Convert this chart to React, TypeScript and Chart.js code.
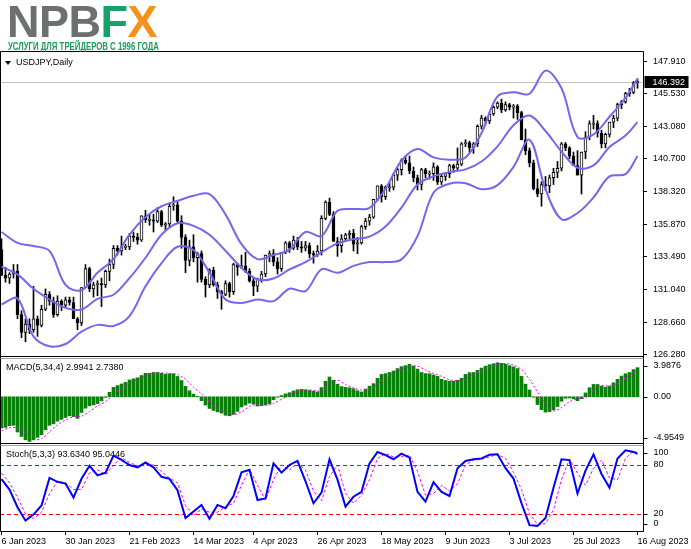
import React, { useEffect, useRef } from 'react';
import { Chart, registerables } from 'chart.js';

Chart.register(...registerables);

// ---------------- data ----------------
const dateLabels = ['6 Jan 2023', '30 Jan 2023', '21 Feb 2023', '14 Mar 2023', '4 Apr 2023', '26 Apr 2023', '18 May 2023', '9 Jun 2023', '3 Jul 2023', '25 Jul 2023', '16 Aug 2023'];
const dateLabelBars = [0, 16, 32, 48, 63, 79, 95, 111, 127, 143, 159];
const priceTicks = [147.91, 145.53, 143.08, 140.7, 138.32, 135.87, 133.49, 131.04, 128.66, 126.28];
const currentPrice = 146.392;
const macdTickValues = [3.9876, 0, -4.9549];
const macdTickLabels = ['3.9876', '0.00', '-4.9549'];
const stochTickValues = [100, 80, 20, 0];
const stochTickLabels = ['100', '80', '20', '0'];
const stochLevels = [80, 20];
const symbolTitle = 'USDJPY,Daily';
const macdTitle = 'MACD(5,34,4) 2.9941 2.7380';
const stochTitle = 'Stoch(5,3,3) 93.6340 95.0446';

const opens = [
  134.0, 132.1, 131.9, 132.2, 132.4, 129.2, 127.9, 128.5, 128.1, 128.9,
  128.4, 129.6, 130.7, 130.2, 129.2, 130.2, 129.9, 130.3, 130.1, 128.9,
  128.6, 131.2, 132.6, 131.1, 131.4, 131.5, 131.4, 132.4, 132.9, 134.1,
  133.9, 134.2, 134.2, 135.0, 134.9, 134.7, 136.5, 136.2, 136.2, 136.1,
  136.8, 135.8, 135.9, 137.2, 137.3, 136.1, 134.9, 133.2, 134.2, 133.4,
  133.7, 131.8, 131.4, 132.5, 131.4, 130.9, 130.7, 131.5, 130.9, 132.9,
  132.7, 132.8, 132.4, 131.7, 131.3, 131.8, 132.2, 133.6, 133.7, 133.1,
  132.6, 133.8, 134.5, 134.1, 134.7, 134.2, 134.1, 134.3, 133.7, 133.6,
  133.9, 136.3, 137.5, 136.6, 134.6, 134.3, 134.8, 135.1, 135.2, 134.4,
  134.5, 135.7, 136.1, 136.4, 137.7, 138.7, 137.9, 138.6, 138.6, 139.5,
  139.9, 140.6, 140.4, 139.8, 139.3, 138.8, 139.9, 139.6, 139.6, 140.1,
  139.0, 139.4, 139.6, 140.2, 140.0, 140.3, 141.8, 141.9, 141.5, 141.8,
  143.1, 143.7, 143.5, 144.0, 144.5, 144.8, 144.3, 144.7, 144.5, 144.6,
  144.1, 142.1, 141.3, 140.4, 138.5, 138.1, 138.8, 138.7, 139.3, 139.7,
  140.0, 141.8, 141.5, 140.9, 140.2, 139.5, 141.2, 142.3, 143.3, 143.3,
  142.6, 141.8, 142.5, 143.4, 143.7, 144.7, 144.9, 145.5, 145.6, 146.3,
];
const highs = [
  134.8, 132.7, 132.3, 132.9, 132.9, 129.5, 128.9, 128.9, 131.3, 129.1,
  129.9, 131.1, 130.9, 130.5, 130.6, 130.3, 130.5, 130.5, 130.5, 129.0,
  131.2, 132.9, 132.7, 131.6, 131.7, 131.9, 132.5, 133.3, 134.3, 134.3,
  135.0, 134.4, 135.2, 135.3, 135.2, 136.5, 136.9, 136.6, 136.6, 137.1,
  136.9, 136.0, 137.4, 137.9, 137.6, 136.5, 135.1, 134.7, 135.1, 133.8,
  133.9, 132.0, 132.6, 132.7, 131.6, 131.0, 131.7, 131.6, 133.0, 133.0,
  133.6, 133.8, 132.6, 131.9, 131.9, 132.4, 133.6, 133.9, 134.0, 133.4,
  133.8, 134.6, 134.6, 135.0, 134.9, 134.6, 134.6, 134.5, 133.9, 134.3,
  136.5, 137.6, 137.8, 136.8, 134.9, 135.1, 135.2, 135.4, 135.5, 134.9,
  135.8, 136.3, 136.6, 137.7, 138.7, 138.8, 138.7, 138.9, 139.6, 140.0,
  140.7, 140.9, 140.9, 140.1, 139.5, 140.0, 140.0, 139.8, 140.4, 140.2,
  139.6, 139.7, 140.3, 140.3, 141.5, 141.9, 142.1, 142.0, 141.9, 143.2,
  143.9, 143.8, 144.1, 144.6, 144.9, 145.1, 144.9, 144.8, 144.7, 144.7,
  144.2, 142.9, 141.5, 140.6, 139.2, 139.0, 139.4, 139.5, 140.0, 140.5,
  141.9, 141.9, 141.6, 141.2, 141.3, 141.2, 142.7, 143.5, 143.9, 143.5,
  142.8, 142.6, 143.4, 143.9, 144.8, 145.0, 145.6, 145.9, 146.4, 146.6,
];
const lows = [
  132.1, 131.6, 131.5, 131.9, 128.9, 127.5, 127.2, 127.8, 127.9, 127.6,
  128.3, 129.5, 129.9, 129.0, 129.1, 129.5, 129.7, 129.9, 128.9, 128.1,
  128.4, 131.2, 130.9, 130.5, 130.6, 129.8, 131.2, 131.7, 132.6, 133.6,
  133.6, 134.0, 134.0, 134.6, 134.4, 134.6, 136.0, 135.8, 135.3, 136.0,
  135.7, 135.4, 135.6, 136.9, 136.0, 134.1, 132.3, 132.8, 133.1, 131.6,
  131.6, 130.5, 131.2, 131.3, 130.4, 129.6, 130.6, 130.5, 130.7, 132.1,
  132.6, 132.3, 131.6, 130.6, 130.9, 131.6, 132.0, 133.1, 132.8, 132.2,
  132.4, 133.7, 133.8, 134.0, 134.0, 133.8, 133.9, 133.4, 133.0, 133.5,
  133.6, 136.2, 136.5, 134.6, 133.5, 133.8, 134.6, 134.8, 133.9, 133.7,
  134.4, 135.5, 135.8, 136.3, 137.6, 137.5, 137.7, 138.3, 138.4, 139.1,
  139.5, 140.3, 139.6, 139.0, 138.4, 138.4, 139.3, 139.2, 139.1, 138.8,
  138.8, 139.1, 139.3, 139.7, 139.9, 140.2, 141.6, 141.2, 141.1, 141.6,
  142.9, 143.2, 143.3, 143.9, 144.4, 144.1, 144.2, 144.3, 143.7, 143.6,
  142.1, 141.0, 140.1, 138.4, 137.9, 137.2, 138.4, 138.2, 138.8, 139.3,
  139.8, 141.3, 140.7, 140.2, 139.5, 138.1, 140.7, 142.1, 142.9, 142.3,
  141.5, 141.5, 142.3, 143.0, 143.5, 144.4, 144.8, 145.3, 145.5, 145.9,
];
const closes = [
  132.1, 131.9, 132.2, 132.4, 129.2, 127.9, 128.5, 128.1, 128.9, 128.4,
  129.6, 130.7, 130.2, 129.2, 130.2, 129.9, 130.3, 130.1, 128.9, 128.6,
  131.2, 132.6, 131.1, 131.4, 131.5, 131.4, 132.4, 132.9, 134.1, 133.9,
  134.2, 134.2, 135.0, 134.9, 134.7, 136.5, 136.2, 136.2, 136.1, 136.8,
  135.8, 135.9, 137.2, 137.3, 136.1, 134.9, 133.2, 134.2, 133.4, 133.7,
  131.8, 131.4, 132.5, 131.4, 130.9, 130.7, 131.5, 130.9, 132.9, 132.7,
  132.8, 132.4, 131.7, 131.3, 131.8, 132.2, 133.6, 133.7, 133.1, 132.6,
  133.8, 134.5, 134.1, 134.7, 134.2, 134.1, 134.3, 133.7, 133.6, 133.9,
  136.3, 137.5, 136.6, 134.6, 134.3, 134.8, 135.1, 135.2, 134.4, 134.5,
  135.7, 136.1, 136.4, 137.7, 138.7, 137.9, 138.6, 138.6, 139.5, 139.9,
  140.6, 140.4, 139.8, 139.3, 138.8, 139.9, 139.6, 139.6, 140.1, 139.0,
  139.4, 139.6, 140.2, 140.0, 140.3, 141.8, 141.9, 141.5, 141.8, 143.1,
  143.7, 143.5, 144.0, 144.5, 144.8, 144.3, 144.7, 144.5, 144.6, 144.1,
  142.1, 141.3, 140.4, 138.5, 138.1, 138.8, 138.7, 139.3, 139.7, 140.0,
  141.8, 141.5, 140.9, 140.2, 139.5, 141.2, 142.3, 143.3, 143.3, 142.6,
  141.8, 142.5, 143.4, 143.7, 144.7, 144.9, 145.5, 145.6, 146.3, 146.39,
];

// Bollinger bands, read every 4th bar (last point = last bar)
const bandStep = 4;
const bbUpper = [
  135.3, 134.5, 134.27, 133.9, 131.4, 131.0, 132.3, 133.3, 135.1, 136.4,
  137.2, 137.6, 137.97, 138.1, 136.6, 134.4, 133.3, 133.6, 134.0, 135.3,
  135.0, 136.86, 137.0, 137.08, 138.5, 140.56, 141.42, 140.8, 140.63, 140.8,
  142.6, 145.3, 145.6, 145.5, 147.2, 145.9, 142.3, 142.5, 143.8, 145.2,
  146.6,
];
const bbMiddle = [
  132.74, 132.17, 131.11, 130.32, 129.7, 129.58, 130.37, 130.67, 131.9, 133.4,
  135.1, 135.95, 135.75, 135.1, 133.92, 132.66, 131.8, 131.87, 132.54, 133.08,
  133.8, 134.46, 134.76, 134.96, 135.7, 137.1, 138.8, 139.4, 139.72, 139.92,
  140.5, 141.62, 143.17, 143.89, 142.75, 141.23, 140.04, 140.21, 141.57, 142.41,
  143.4,
];
const bbLower = [
  129.95, 130.4, 127.6, 126.87, 127.04, 127.95, 128.45, 128.37, 129.1, 131.3,
  133.0, 134.21, 133.97, 132.3, 130.32, 130.07, 130.32, 130.2, 131.11, 130.94,
  132.55, 132.3, 132.8, 133.08, 133.08, 133.28, 135.0, 138.2, 138.86, 138.9,
  138.46, 138.76, 140.1, 142.1, 138.46, 136.24, 136.7, 137.85, 139.4, 139.57,
  140.9,
];

// MACD histogram, one value per bar
const macdMain = [
  -3.21, -3.15, -2.97, -2.93, -3.62, -4.08, -4.42, -4.59, -4.42, -4.17,
  -3.89, -3.38, -2.93, -2.78, -2.5, -2.32, -2.13, -1.95, -2.04, -2.22,
  -1.61, -1.17, -0.93, -0.83, -0.7, -0.42, -0.06, 0.46, 0.97, 1.15,
  1.32, 1.49, 1.73, 1.85, 1.95, 2.19, 2.41, 2.41, 2.5, 2.5,
  2.41, 2.32, 2.36, 2.36, 2.09, 1.67, 1.08, 0.62, 0.28, 0.05,
  -0.4, -0.85, -1.2, -1.4, -1.55, -1.67, -1.9, -1.95, -1.8, -1.5,
  -1.05, -0.85, -0.65, -0.75, -0.95, -0.92, -0.82, -0.7, -0.3, -0.05,
  0.12, 0.3, 0.42, 0.6, 0.72, 0.76, 0.72, 0.65, 0.58, 0.5,
  0.95, 1.6, 2.04, 1.7, 1.3, 1.05, 0.97, 0.92, 0.83, 0.62,
  0.5, 0.8, 1.09, 1.35, 1.9, 2.3, 2.38, 2.5, 2.65, 2.9,
  3.1, 3.2, 3.34, 3.15, 2.85, 2.5, 2.38, 2.37, 2.25, 2.1,
  1.8, 1.68, 1.61, 1.61, 1.7, 1.9, 2.3, 2.48, 2.5, 2.72,
  2.95, 3.15, 3.3, 3.4, 3.5, 3.44, 3.34, 3.2, 3.08, 2.9,
  2.1, 1.3, 0.7, -0.05, -0.8, -1.33, -1.58, -1.52, -1.35, -1.0,
  -0.46, -0.15, -0.12, -0.2, -0.4, -0.19, 0.4, 0.93, 1.27, 1.27,
  1.09, 0.99, 1.09, 1.44, 1.79, 2.13, 2.37, 2.5, 2.8, 2.9941,
];

// lines read every 2nd bar (last point = last bar)
const lineStep = 2;
const macdSignal = [
  -3.5, -3.2, -3.2, -3.7, -4.4, -4.3, -3.6, -2.9, -2.4, -2.05,
  -2.0, -1.5, -0.95, -0.5, 0.2, 0.9, 1.4, 1.75, 2.1, 2.4,
  2.47, 2.4, 2.3, 1.8, 1.0, 0.3, -0.5, -1.2, -1.6, -1.85,
  -1.55, -1.0, -0.8, -0.88, -0.68, -0.25, 0.2, 0.55, 0.72, 0.65,
  0.62, 1.3, 1.7, 1.25, 0.92, 0.7, 0.8, 1.3, 1.95, 2.45,
  2.8, 3.15, 3.15, 2.75, 2.4, 2.1, 1.75, 1.65, 1.9, 2.3,
  2.65, 3.05, 3.35, 3.42, 3.26, 2.8, 1.8, 0.5, -0.7, -1.45,
  -1.1, -0.5, -0.2, -0.1, 0.7, 1.15, 1.1, 1.35, 1.95, 2.45,
  2.738,
];
const stochMain = [
  62.6, 49.8, 28.2, 11.7, 19.1, 30.3, 64.2, 59.3, 57.2, 40,
  63, 79, 67.2, 70.5, 91.5, 86.2, 80, 77.1, 83, 77.1,
  65.5, 63, 49, 15, 23, 31, 14, 31, 27, 42,
  71, 74, 37, 39, 82, 70.6, 80, 85, 60, 33,
  46, 87, 62, 29, 41, 47, 82, 95.9, 92, 87,
  93.9, 89, 47, 35, 59, 47, 42, 76, 85, 87,
  88, 92.6, 93, 76, 63.3, 33, 6.2, 5.3, 15, 52,
  87, 86, 45, 73, 93, 69, 52, 88, 98, 96,
  93.634,
];
const stochSignal = [
  70, 58, 40, 20, 14, 22, 45, 60, 58, 50,
  50, 70, 74, 68, 80, 89, 83, 79, 80, 80,
  72, 64, 58, 30, 18, 26, 22, 22, 29, 33,
  55, 75, 55, 37, 62, 80, 74, 82, 74, 48,
  36, 66, 80, 45, 33, 43, 62, 88, 94, 90,
  90, 92, 72, 43, 45, 55, 48, 57, 80, 86,
  87, 90, 93, 88, 71, 50, 20, 7, 8, 25,
  62, 87, 70, 55, 76, 86, 64, 62, 88, 97,
  95.0446,
];

// ---------------- rendering ----------------
const FONT = '"Liberation Sans", Arial, sans-serif';
const BAND = '#7367ee';
const lastBar = closes.length - 1;
const sampled = (arr: number[], step: number) => arr.map((v, k) => ({ x: Math.min(k * step, lastBar), y: v }));

const mt4Plugin = {
  id: 'mt4Decor',
  beforeDatasetsDraw(chart: any) {
    const { ctx, chartArea } = chart;
    const yM = chart.scales.y;
    const yM2 = chart.scales.y2;
    const yS = chart.scales.y3;
    ctx.save();
    ctx.lineWidth = 1;
    // current price line
    const py = Math.round(yM.getPixelForValue(currentPrice)) + 0.5;
    ctx.strokeStyle = '#c0c0c0';
    ctx.beginPath();
    ctx.moveTo(chartArea.left, py);
    ctx.lineTo(chartArea.right, py);
    ctx.stroke();
    // stochastic levels
    ctx.strokeStyle = '#ff0000';
    ctx.setLineDash([4, 3]);
    for (const lv of stochLevels) {
      const y = Math.round(yS.getPixelForValue(lv)) + 0.5;
      ctx.beginPath();
      ctx.moveTo(chartArea.left, y);
      ctx.lineTo(chartArea.right, y);
      ctx.stroke();
    }
    ctx.setLineDash([]);
    // titles
    ctx.fillStyle = '#000';
    ctx.font = `9px ${FONT}`;
    ctx.textBaseline = 'middle';
    ctx.textAlign = 'left';
    ctx.beginPath();
    ctx.moveTo(5, 61);
    ctx.lineTo(11, 61);
    ctx.lineTo(8, 65);
    ctx.closePath();
    ctx.fill();
    ctx.fillText(symbolTitle, 16, yM.top + 11);
    ctx.fillText(macdTitle, 6, yM2.top + 10);
    ctx.fillText(stochTitle, 6, yS.top + 10);
    ctx.restore();
  },
  afterDraw(chart: any) {
    const { ctx, chartArea } = chart;
    const yM = chart.scales.y;
    const yM2 = chart.scales.y2;
    const yS = chart.scales.y3;
    const L = chartArea.left + 0.5;
    const R = Math.round(chartArea.right) + 0.5;
    ctx.save();
    ctx.lineWidth = 1;
    ctx.strokeStyle = '#000';
    ctx.beginPath();
    ctx.moveTo(L, chartArea.top - 0.5);
    ctx.lineTo(R, chartArea.top - 0.5);
    ctx.lineTo(R, chartArea.bottom + 0.5);
    ctx.lineTo(L, chartArea.bottom + 0.5);
    ctx.closePath();
    ctx.stroke();
    // panel separators
    for (const sc of [yM2, yS]) {
      const t = Math.round(sc.top);
      ctx.strokeStyle = '#000';
      ctx.beginPath();
      ctx.moveTo(L, t - 1.5);
      ctx.lineTo(R, t - 1.5);
      ctx.stroke();
      ctx.strokeStyle = '#a0a0a0';
      ctx.beginPath();
      ctx.moveTo(L, t + 0.5);
      ctx.lineTo(R, t + 0.5);
      ctx.stroke();
    }
    // sub-window scale labels (kept inside their panel like MT4 does)
    ctx.fillStyle = '#000';
    ctx.strokeStyle = '#000';
    ctx.font = `9px ${FONT}`;
    ctx.textBaseline = 'middle';
    ctx.textAlign = 'left';
    const drawLabels = (sc: any, values: number[], labels: string[]) => {
      values.forEach((v, k) => {
        let y = sc.getPixelForValue(v);
        y = Math.min(Math.max(y, sc.top + 8), sc.bottom - 7);
        const yy = Math.round(y) + 0.5;
        ctx.beginPath();
        ctx.moveTo(R, yy);
        ctx.lineTo(R + 4, yy);
        ctx.stroke();
        ctx.fillText(labels[k], R + 10, y);
      });
    };
    drawLabels(yM2, macdTickValues, macdTickLabels);
    drawLabels(yS, stochTickValues, stochTickLabels);
    // current price box
    const py = Math.round(yM.getPixelForValue(currentPrice));
    ctx.fillStyle = '#000';
    ctx.fillRect(R + 1, py - 6, 44, 12);
    ctx.fillStyle = '#fff';
    ctx.fillText(currentPrice.toFixed(3), R + 9, py + 0.5);
    ctx.restore();
  },
};

export default function App() {
  const ref = useRef<HTMLCanvasElement>(null);
  useEffect(() => {
    document.body.style.margin = '0';
    Chart.defaults.font.family = FONT;
    const bodies = opens.map((o, i) => {
      const c = closes[i];
      let lo = Math.min(o, c);
      let hi = Math.max(o, c);
      if (hi - lo < 0.08) {
        const m = (hi + lo) / 2;
        lo = m - 0.04;
        hi = m + 0.04;
      }
      return { x: i, y: [lo, hi] };
    });
    const bodyColors = opens.map((o, i) => (closes[i] >= o ? '#ffffff' : '#000000'));
    const subAxis = (weight: number, min: number, max: number) => ({
      type: 'linear',
      position: 'right',
      stack: 'panels',
      stackWeight: weight,
      min,
      max,
      grid: { display: false },
      border: { display: false },
      ticks: { display: false },
      afterFit: (s: any) => { s.width = 48; s.paddingTop = 0; s.paddingBottom = 0; },
    });
    const chart = new Chart(ref.current as HTMLCanvasElement, {
      type: 'bar',
      data: {
        datasets: [
          { type: 'line', label: 'BB upper', data: sampled(bbUpper, bandStep), yAxisID: 'y', borderColor: BAND, borderWidth: 2, pointRadius: 0, tension: 0.35, fill: false },
          { type: 'line', label: 'BB middle', data: sampled(bbMiddle, bandStep), yAxisID: 'y', borderColor: BAND, borderWidth: 2, pointRadius: 0, tension: 0.35, fill: false },
          { type: 'line', label: 'BB lower', data: sampled(bbLower, bandStep), yAxisID: 'y', borderColor: BAND, borderWidth: 2, pointRadius: 0, tension: 0.35, fill: false },
          { type: 'bar', label: 'bodies', data: bodies, yAxisID: 'y', backgroundColor: bodyColors, borderColor: '#000', borderWidth: 1, borderSkipped: false, barThickness: 3, grouped: false },
          { type: 'bar', label: 'wicks', data: highs.map((h, i) => ({ x: i, y: [lows[i], h] })), yAxisID: 'y', backgroundColor: '#000', borderWidth: 0, barThickness: 1, grouped: false },
          { type: 'line', label: 'MACD signal', data: sampled(macdSignal, lineStep), yAxisID: 'y2', borderColor: '#ff00ff', borderWidth: 1, borderDash: [2, 2], pointRadius: 0, tension: 0.3, fill: false },
          { type: 'bar', label: 'MACD', data: macdMain.map((v, i) => ({ x: i, y: v })), yAxisID: 'y2', backgroundColor: '#078107', borderWidth: 0, barThickness: 3, grouped: false },
          { type: 'line', label: 'Stoch main', data: sampled(stochMain, lineStep), yAxisID: 'y3', borderColor: '#0000ff', borderWidth: 2, pointRadius: 0, tension: 0, fill: false },
          { type: 'line', label: 'Stoch signal', data: sampled(stochSignal, lineStep), yAxisID: 'y3', borderColor: '#ff00ff', borderWidth: 1, borderDash: [3, 2], pointRadius: 0, tension: 0, fill: false },
        ] as any,
      },
      options: {
        responsive: false,
        animation: false,
        devicePixelRatio: 1,
        events: [],
        layout: { padding: { top: 52, left: 0, right: 0, bottom: 0 } },
        plugins: { legend: { display: false }, tooltip: { enabled: false }, title: { display: false } },
        scales: {
          x: {
            type: 'linear',
            min: -0.375,
            max: 160.375,
            offset: false,
            position: 'bottom',
            grid: { display: true, drawOnChartArea: false, drawTicks: true, tickLength: 4, color: '#000', offset: false },
            border: { display: false },
            ticks: {
              autoSkip: false,
              maxRotation: 0,
              minRotation: 0,
              align: 'start',
              padding: 1,
              labelOffset: 0,
              color: '#000',
              font: { family: FONT, size: 9 },
              callback: (_v: any, idx: number) => dateLabels[idx] ?? '',
            },
            afterBuildTicks: (s: any) => { s.ticks = dateLabelBars.map((v) => ({ value: v })); },
            afterFit: (s: any) => { s.height = 18; s.paddingLeft = 0; s.paddingRight = 0; },
          },
          y: {
            type: 'linear',
            position: 'right',
            stack: 'panels',
            stackWeight: 306,
            min: 126.006,
            max: 148.576,
            grid: { display: true, drawOnChartArea: false, drawTicks: true, tickLength: 4, color: '#000' },
            border: { display: false },
            ticks: { padding: 6, color: '#000', font: { family: FONT, size: 9 }, callback: (v: any) => Number(v).toFixed(3) },
            afterBuildTicks: (s: any) => { s.ticks = priceTicks.map((v) => ({ value: v })); },
            afterFit: (s: any) => { s.width = 48; s.paddingTop = 0; s.paddingBottom = 0; },
          },
          y2: subAxis(87, -4.9549, 3.9876),
          y3: subAxis(86, -1, 104.5),
        } as any,
      },
      plugins: [mt4Plugin],
    } as any);
    return () => chart.destroy();
  }, []);

  return (
    <div style={{ position: 'relative', width: 691, height: 549, background: '#fff', overflow: 'hidden' }}>
      <canvas ref={ref} width={691} height={549} style={{ position: 'absolute', left: 0, top: 0, width: 691, height: 549 }} />
      <div style={{ position: 'absolute', left: 7, top: -1, lineHeight: 1, fontFamily: FONT, fontWeight: 'bold', fontSize: 45, whiteSpace: 'nowrap', letterSpacing: -0.5 }}>
        <span style={{ color: '#6e6f71' }}>NPB</span>
        <span style={{ color: '#16a06a' }}>F</span>
        <span style={{ color: '#f5921e' }}>X</span>
      </div>
      <div style={{ position: 'absolute', left: 8, top: 41.5, lineHeight: 1, fontFamily: FONT, fontWeight: 'bold', fontSize: 10, color: '#1b9a5a', whiteSpace: 'nowrap', transform: 'scaleX(0.78)', transformOrigin: 'left top' }}>
        УСЛУГИ ДЛЯ ТРЕЙДЕРОВ С 1996 ГОДА
      </div>
    </div>
  );
}
